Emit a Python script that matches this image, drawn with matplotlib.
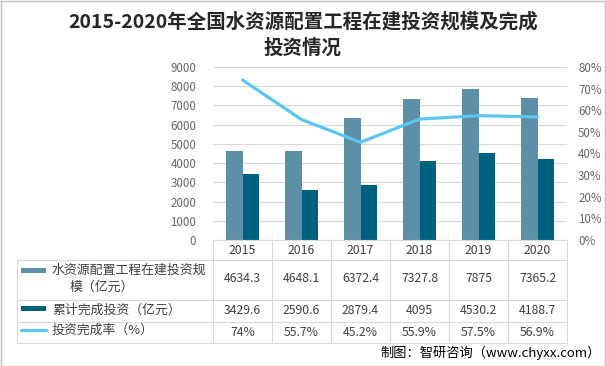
import matplotlib
matplotlib.use("Agg")
import matplotlib.pyplot as plt
import matplotlib.transforms as mtransforms
from matplotlib.lines import Line2D
from matplotlib.patches import Rectangle

plt.rcParams['font.family'] = ['Noto Sans CJK SC', 'DejaVu Sans']

years = ['2015', '2016', '2017', '2018', '2019', '2020']
scale = [4634.3, 4648.1, 6372.4, 7327.8, 7875, 7365.2]
completed = [3429.6, 2590.6, 2879.4, 4095, 4530.2, 4188.7]
rate = [74, 55.7, 45.2, 55.9, 57.5, 56.9]
scale_labels = ['4634.3', '4648.1', '6372.4', '7327.8', '7875', '7365.2']
completed_labels = ['3429.6', '2590.6', '2879.4', '4095', '4530.2', '4188.7']
rate_labels = ['74%', '55.7%', '45.2%', '55.9%', '57.5%', '56.9%']
series_names = ['水资源配置工程在建投资规\n模（亿元）', '累计完成投资（亿元）', '投资完成率（%）']
left_ticks = [0, 1000, 2000, 3000, 4000, 5000, 6000, 7000, 8000, 9000]
right_ticks = [0, 10, 20, 30, 40, 50, 60, 70, 80]

W, H = 606, 366
fig = plt.figure(figsize=(W / 100, H / 100), dpi=100)
fig.patch.set_facecolor('white')

def fy(py):
    return 1 - py / H

def fx(px):
    return px / W

c1 = '#5D8FA6'
c2 = '#00617F'
c3 = '#5BC6F2'
grid_c = '#D9D9D9'
tick_c = '#666666'
text_c = '#404040'

ax = fig.add_axes([fx(213), fy(240), fx(567) - fx(213), fy(67) - fy(240)])
ax2 = ax.twinx()

x = list(range(len(years)))
bw = 0.28
ax.bar([i - bw / 2 for i in x], scale, width=bw, color=c1, zorder=2)
ax.bar([i + bw / 2 for i in x], completed, width=bw, color=c2, zorder=2)
ax2.plot(x, rate, color=c3, lw=2.3, solid_capstyle='round', solid_joinstyle='round', zorder=3)

ax.set_xlim(-0.5, len(years) - 0.5)
ax.set_ylim(0, 9000)
ax.set_yticks(left_ticks)
ax.set_yticklabels([str(t) for t in left_ticks])
ax2.set_ylim(0, 80)
ax2.set_yticks(right_ticks)
ax2.set_yticklabels([f'{t}%' for t in right_ticks])
ax.set_xticks([])
ax.yaxis.grid(True, color=grid_c, lw=0.8, zorder=0)
ax.set_axisbelow(True)
for a in (ax, ax2):
    for s in ('top', 'left', 'right', 'bottom'):
        a.spines[s].set_visible(False)
    a.tick_params(axis='y', length=0, labelsize=8.3, labelcolor=tick_c, pad=12)
ax2.tick_params(axis='y', pad=8)

# table
blend = mtransforms.blended_transform_factory(ax.transData, fig.transFigure)
row_y = [240, 260, 300, 322, 343]
n = len(years)
for i in range(n + 1):
    fig.add_artist(Line2D([i - 0.5, i - 0.5], [fy(240), fy(343)], transform=blend, color=grid_c, lw=0.8))
fig.add_artist(Line2D([-0.5, n - 0.5], [fy(240), fy(240)], transform=blend, color=grid_c, lw=0.8))
right_px = fx(567)
for yy in row_y[1:]:
    fig.add_artist(Line2D([fx(17), right_px], [fy(yy), fy(yy)], transform=fig.transFigure, color=grid_c, lw=0.8))
fig.add_artist(Line2D([fx(17), fx(17)], [fy(260), fy(343)], transform=fig.transFigure, color=grid_c, lw=0.8))

rows_vals = [years, scale_labels, completed_labels, rate_labels]
row_centers = [250, 279, 311, 332]
for r, vals in enumerate(rows_vals):
    for i, v in enumerate(vals):
        fig.text(i, fy(row_centers[r]), v, transform=blend, ha='center', va='center',
                 fontsize=8.8, color=text_c)

# legend keys & labels
fig.add_artist(Rectangle((fx(21), fy(273)), fx(25), fy(268) - fy(273), transform=fig.transFigure,
                         facecolor=c1, edgecolor='none'))
fig.add_artist(Rectangle((fx(21), fy(311)), fx(25), fy(306) - fy(311), transform=fig.transFigure,
                         facecolor=c2, edgecolor='none'))
fig.add_artist(Line2D([fx(21), fx(46)], [fy(330), fy(330)], transform=fig.transFigure,
                      color=c3, lw=2.3, solid_capstyle='round'))
fig.text(fx(52), fy(270), series_names[0].split('\n')[0], ha='left', va='center', fontsize=9.3, color=text_c)
fig.text(fx(70), fy(287), series_names[0].split('\n')[1], ha='left', va='center', fontsize=9.3, color=text_c)
fig.text(fx(52), fy(310), series_names[1], ha='left', va='center', fontsize=9.3, color=text_c)
fig.text(fx(52), fy(330), series_names[2], ha='left', va='center', fontsize=9.3, color=text_c)

# title
fig.text(fx(303), fy(22), '2015-2020年全国水资源配置工程在建投资规模及完成', ha='center', va='center',
         fontsize=14, fontweight='bold', color='#262626')
fig.text(fx(303), fy(48), '投资情况', ha='center', va='center',
         fontsize=14, fontweight='bold', color='#262626')

# footer
fig.text(fx(601), fy(353), '制图：智研咨询（www.chyxx.com）', ha='right', va='center',
         fontsize=9.5, color='#000000')

# border
fig.add_artist(Rectangle((0.5 / W, 0.5 / H), 1 - 1.5 / W, 1 - 1.5 / H, transform=fig.transFigure,
                         facecolor='none', edgecolor='#BFBFBF', lw=1))

fig.savefig('out.png', dpi=100, facecolor='white')
